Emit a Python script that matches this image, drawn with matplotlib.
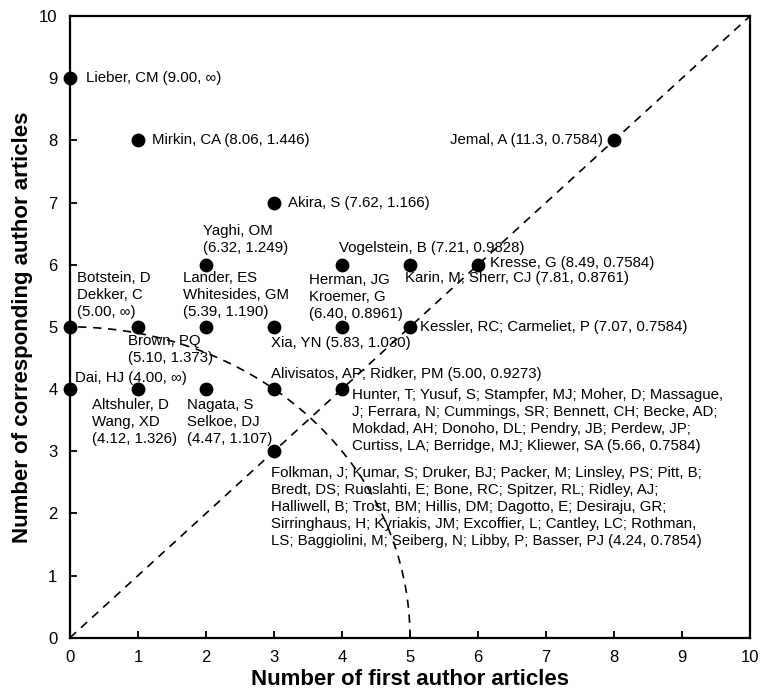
import numpy as np
import matplotlib.pyplot as plt

# number of first / corresponding author articles per group
first_counts = [0, 1, 8, 3, 2, 4, 5, 6, 0, 1, 2, 3, 4, 5, 0, 1, 2, 3, 4, 3]
corr_counts = [9, 8, 8, 7, 6, 6, 6, 6, 5, 5, 5, 5, 5, 5, 4, 4, 4, 4, 4, 3]

labels = [
    "Lieber, CM (9.00, \u221e)",
    "Mirkin, CA (8.06, 1.446)",
    "Jemal, A (11.3, 0.7584)",
    "Akira, S (7.62, 1.166)",
    "Yaghi, OM\n(6.32, 1.249)",
    "Vogelstein, B (7.21, 0.9828)",
    "Kresse, G (8.49, 0.7584)",
    "Herman, JG\nKroemer, G\n(6.40, 0.8961)",
    "Karin, M; Sherr, CJ (7.81, 0.8761)",
    "Botstein, D\nDekker, C\n(5.00, \u221e)",
    "Lander, ES\nWhitesides, GM\n(5.39, 1.190)",
    "Brown, PQ\n(5.10, 1.373)",
    "Xia, YN (5.83, 1.030)",
    "Kessler, RC; Carmeliet, P (7.07, 0.7584)",
    "Dai, HJ (4.00, \u221e)",
    "Altshuler, D\nWang, XD\n(4.12, 1.326)",
    "Nagata, S\nSelkoe, DJ\n(4.47, 1.107)",
    "Alivisatos, AP; Ridker, PM (5.00, 0.9273)",
    "Hunter, T; Yusuf, S; Stampfer, MJ; Moher, D; Massague,\n"
    "J; Ferrara, N; Cummings, SR; Bennett, CH; Becke, AD;\n"
    "Mokdad, AH; Donoho, DL; Pendry, JB; Perdew, JP;\n"
    "Curtiss, LA; Berridge, MJ; Kliewer, SA (5.66, 0.7584)",
    "Folkman, J; Kumar, S; Druker, BJ; Packer, M; Linsley, PS; Pitt, B;\n"
    "Bredt, DS; Ruoslahti, E; Bone, RC; Spitzer, RL; Ridley, AJ;\n"
    "Halliwell, B; Trost, BM; Hillis, DM; Dagotto, E; Desiraju, GR;\n"
    "Sirringhaus, H; Kyriakis, JM; Excoffier, L; Cantley, LC; Rothman,\n"
    "LS; Baggiolini, M; Seiberg, N; Libby, P; Basser, PJ (4.24, 0.7854)",
]

# label anchor (x, y, horizontal alignment) - layout only
label_pos = [
    (0.23, 9.0, "left"), (1.21, 8.0, "left"), (7.83, 8.0, "right"),
    (3.2, 7.0, "left"), (1.96, 6.41, "left"), (3.96, 6.27, "left"),
    (6.17, 6.03, "left"), (3.51, 5.48, "left"), (4.93, 5.79, "left"),
    (0.11, 5.51, "left"), (1.66, 5.51, "left"), (0.85, 4.63, "left"),
    (2.95, 4.74, "left"), (5.15, 5.0, "left"), (0.08, 4.18, "left"),
    (0.33, 3.47, "left"), (1.72, 3.47, "left"), (2.96, 4.24, "left"),
    (4.15, 3.49, "left"), (2.96, 2.10, "left"),
]

h_radius = 5  # radius of the dashed quarter circle
axis_max = 10

plt.rcParams['font.family'] = ['Liberation Sans', 'DejaVu Sans']

fig = plt.figure(figsize=(7.6, 6.94), dpi=100)
ax = fig.add_axes([0.092, 0.081, 0.895, 0.896])

t = np.linspace(0, np.pi / 2, 200)
ax.plot(h_radius * np.cos(t), h_radius * np.sin(t), color='black',
        lw=1.2, ls=(0, (5, 4)))
ax.plot([0, axis_max], [0, axis_max], color='black', lw=1.2, ls=(0, (5, 4)))

ax.scatter(first_counts, corr_counts, s=80, color='black', zorder=3,
           clip_on=False)

for txt, (lx, ly, ha) in zip(labels, label_pos):
    ax.text(lx, ly, txt, ha=ha, va='center', fontsize=10.8, linespacing=1.28)

ax.set_xlim(0, axis_max)
ax.set_ylim(0, axis_max)
ax.set_xticks(range(0, axis_max + 1))
ax.set_yticks(range(0, axis_max + 1))
ax.tick_params(direction='in', length=5, width=1.3, labelsize=12, pad=9)
for sp in ax.spines.values():
    sp.set_linewidth(1.6)

ax.set_xlabel('Number of first author articles', fontsize=16,
              fontweight='bold', labelpad=3)
ax.set_ylabel('Number of corresponding author articles', fontsize=16,
              fontweight='bold', labelpad=4)

fig.savefig('out.png', dpi=100)
